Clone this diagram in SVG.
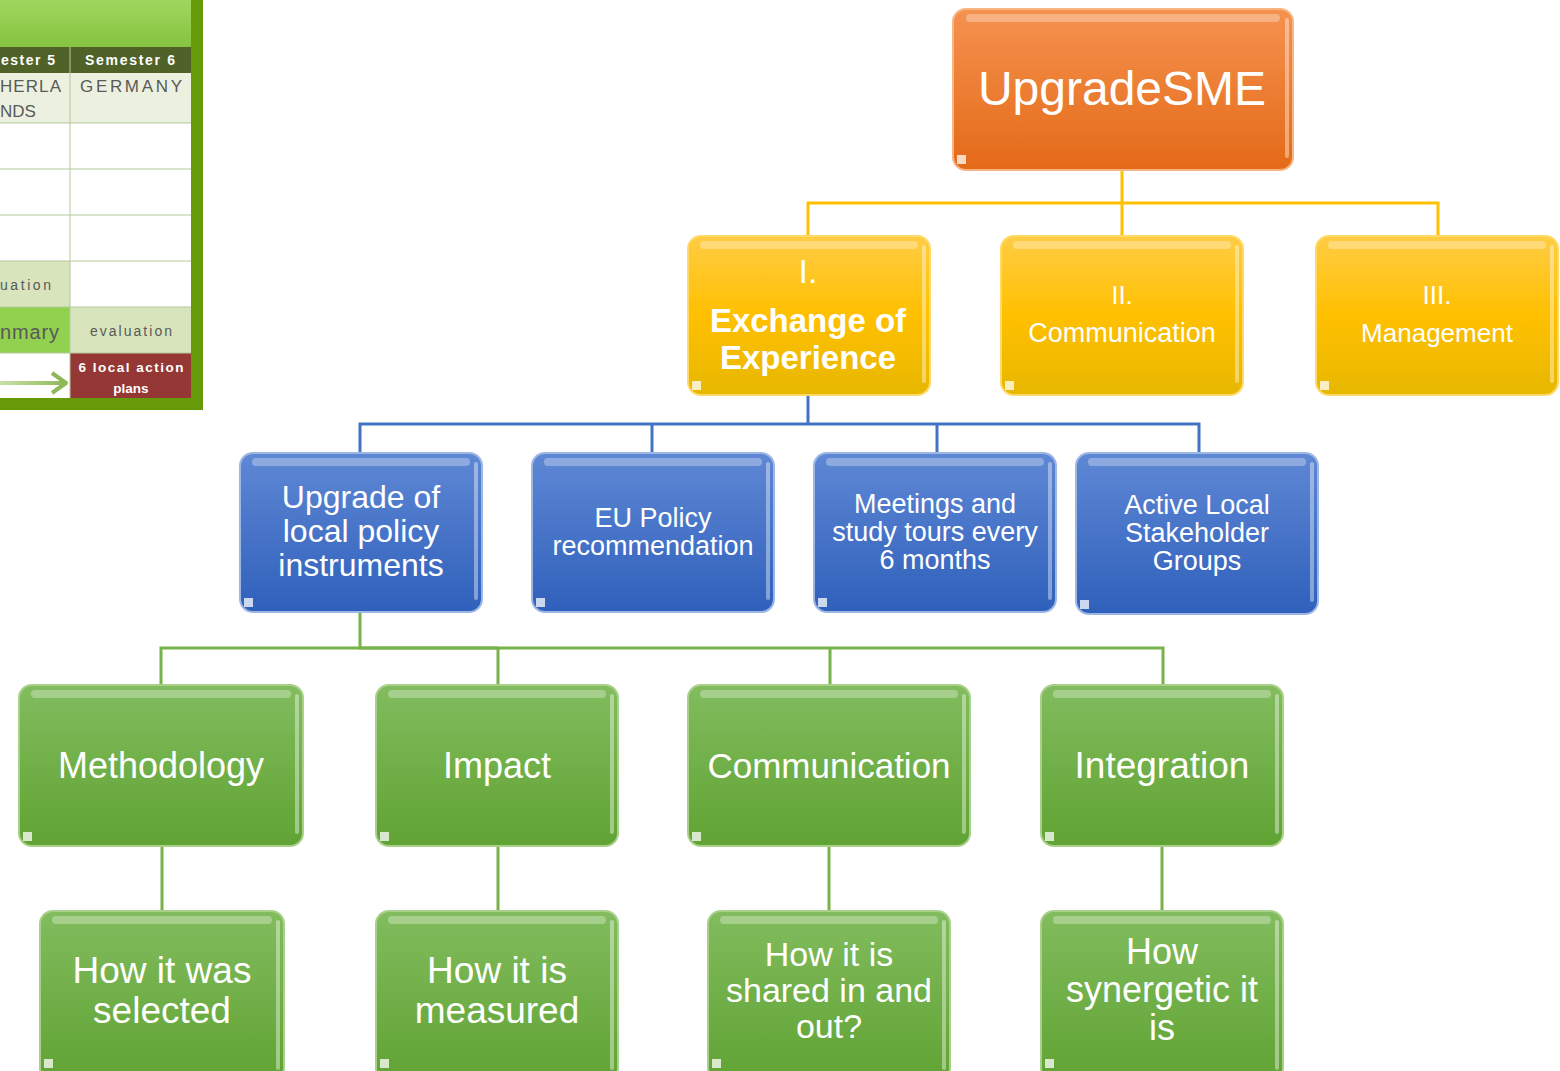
<svg xmlns="http://www.w3.org/2000/svg" width="1560" height="1071" viewBox="0 0 1560 1071">
<defs>
<linearGradient id="gOr" x1="0" y1="0" x2="0" y2="1"><stop offset="0" stop-color="#f5924f"/><stop offset="1" stop-color="#e46a18"/></linearGradient>
<linearGradient id="gYe" x1="0" y1="0" x2="0" y2="1"><stop offset="0" stop-color="#ffcc44"/><stop offset="0.5" stop-color="#ffc000"/><stop offset="1" stop-color="#e7b700"/></linearGradient>
<linearGradient id="gBl" x1="0" y1="0" x2="0" y2="1"><stop offset="0" stop-color="#5f88d5"/><stop offset="1" stop-color="#2f60bb"/></linearGradient>
<linearGradient id="gGr" x1="0" y1="0" x2="0" y2="1"><stop offset="0" stop-color="#82bc5e"/><stop offset="1" stop-color="#60a333"/></linearGradient>
<linearGradient id="gHd" x1="0" y1="0" x2="0" y2="1"><stop offset="0" stop-color="#9fd65e"/><stop offset="1" stop-color="#86c440"/></linearGradient>
<linearGradient id="gArr" gradientUnits="userSpaceOnUse" x1="0" y1="0" x2="66" y2="0"><stop offset="0" stop-color="#c9e0a8"/><stop offset="1" stop-color="#8fb858"/></linearGradient>
</defs>
<style>
text{font-family:"Liberation Sans",Arial,sans-serif;fill:#fff;text-anchor:middle}
.or{fill:url(#gOr);stroke:#f7b583;stroke-width:2}
.ye{fill:url(#gYe);stroke:#ffd966;stroke-width:2}
.bl{fill:url(#gBl);stroke:#9db7e3;stroke-width:2}
.gr{fill:url(#gGr);stroke:#a8d08a;stroke-width:2}
.hl{fill:#fff;opacity:0.3}
.sd{fill:#fff;opacity:0.4}
.ck{fill:#fff;opacity:0.75}
.cy{stroke:#ffc000;stroke-width:3;fill:none}
.cb{stroke:#4472c4;stroke-width:3;fill:none}
.cg{stroke:#78b24a;stroke-width:3;fill:none}
.tg{stroke:#b5c99a;stroke-width:1}
text.tt{fill:#595959;text-anchor:start}
text.tb{font-weight:bold;fill:#fff}
text.st{text-anchor:start}
</style>

<!-- table fragment -->
<g id="table">
<rect x="0" y="0" width="203" height="410" fill="#679a08"/>
<rect x="0" y="0" width="191" height="47" fill="url(#gHd)"/>
<rect x="0" y="47" width="191" height="26" fill="#4f6228"/>
<rect x="0" y="73" width="191" height="50" fill="#ebf1de"/>
<rect x="0" y="123" width="191" height="138" fill="#ffffff"/>
<rect x="0" y="261" width="70" height="46" fill="#d8e4bc"/>
<rect x="70" y="261" width="121" height="46" fill="#ffffff"/>
<rect x="0" y="307" width="70" height="46" fill="#92d050"/>
<rect x="70" y="307" width="121" height="46" fill="#d8e4bc"/>
<rect x="0" y="353" width="70" height="45" fill="#ffffff"/>
<rect x="70" y="353" width="121" height="45" fill="#953735"/>
<line class="tg" x1="70" y1="47" x2="70" y2="398"/>
<line class="tg" x1="0" y1="123" x2="191" y2="123"/>
<line class="tg" x1="0" y1="169" x2="191" y2="169"/>
<line class="tg" x1="0" y1="215" x2="191" y2="215"/>
<line class="tg" x1="0" y1="261" x2="191" y2="261"/>
<line class="tg" x1="0" y1="307" x2="191" y2="307"/>
<line class="tg" x1="0" y1="353" x2="191" y2="353"/>
<text class="tb st" x="1" y="65" font-size="14" textLength="54">ester 5</text>
<text class="tb" x="130" y="65" font-size="14" textLength="90">Semester 6</text>
<text class="tt" x="0" y="92" font-size="17" textLength="61">HERLA</text>
<text class="tt" x="0" y="117" font-size="17">NDS</text>
<text class="tt" x="80" y="92" font-size="17" textLength="102">GERMANY</text>
<text class="tt" x="0" y="290" font-size="14" textLength="51">uation</text>
<text class="tt" x="0" y="339" font-size="20" textLength="59">nmary</text>
<text class="tt" x="90" y="336" font-size="14" textLength="82">evaluation</text>
<text class="tb" x="131" y="372" font-size="13.5" textLength="105">6 local action</text>
<text class="tb" x="131" y="393" font-size="13.5">plans</text>
<line x1="0" y1="383" x2="64" y2="383" stroke="url(#gArr)" stroke-width="4"/>
<polyline points="52,373 66,383 52,393" fill="none" stroke="#8fb858" stroke-width="4" stroke-linejoin="round"/>
</g>

<!-- connectors -->
<g id="connectors">
<polyline class="cy" points="808,235 808,203 1438,203 1438,235"/>
<line class="cy" x1="1122" y1="170" x2="1122" y2="235" stroke-width="4" stroke="#f5b800"/>
<polyline class="cb" points="360,452 360,424 1199,424 1199,452"/>
<line class="cb" x1="652" y1="424" x2="652" y2="452"/>
<line class="cb" x1="937" y1="424" x2="937" y2="452"/>
<line class="cb" x1="808" y1="395" x2="808" y2="424" stroke-width="4" stroke="#3b66b8"/>
<polyline class="cg" points="161,685 161,648 1163,648 1163,685"/>
<line class="cg" x1="498" y1="648" x2="498" y2="685"/>
<line class="cg" x1="830" y1="648" x2="830" y2="685"/>
<polyline class="cg" points="360,613 360,648 498,648" stroke-width="4" stroke="#6aa63a"/>
<line class="cg" x1="162" y1="847" x2="162" y2="910"/>
<line class="cg" x1="498" y1="847" x2="498" y2="910"/>
<line class="cg" x1="829" y1="847" x2="829" y2="910"/>
<line class="cg" x1="1162" y1="847" x2="1162" y2="910"/>
</g>

<!-- level 0 -->
<g id="n-upgradesme">
<rect class="or" x="953" y="9" width="340" height="161" rx="13"/>
<rect class="hl" x="966" y="14" width="314" height="8" rx="4"/>
<rect class="sd" x="1285" y="18" width="4" height="140" rx="2"/>
<rect class="ck" x="957" y="155" width="9" height="9"/>
<text x="1122" y="105" font-size="48">UpgradeSME</text>
</g>

<!-- level 1 -->
<g id="n-exchange">
<rect class="ye" x="688" y="236" width="242" height="159" rx="13"/>
<rect class="hl" x="700" y="241" width="218" height="8" rx="4"/>
<rect class="sd" x="922" y="245" width="4" height="138" rx="2"/>
<rect class="ck" x="692" y="381" width="9" height="9"/>
<text x="808" y="283" font-size="34">I.</text>
<text x="808" y="332" font-size="33" font-weight="bold">Exchange of</text>
<text x="808" y="369" font-size="33" font-weight="bold">Experience</text>
</g>
<g id="n-communication1">
<rect class="ye" x="1001" y="236" width="242" height="159" rx="13"/>
<rect class="hl" x="1013" y="241" width="218" height="8" rx="4"/>
<rect class="sd" x="1235" y="245" width="4" height="138" rx="2"/>
<rect class="ck" x="1005" y="381" width="9" height="9"/>
<text x="1122" y="304" font-size="26">II.</text>
<text x="1122" y="342" font-size="27">Communication</text>
</g>
<g id="n-management">
<rect class="ye" x="1316" y="236" width="242" height="159" rx="13"/>
<rect class="hl" x="1328" y="241" width="218" height="8" rx="4"/>
<rect class="sd" x="1550" y="245" width="4" height="138" rx="2"/>
<rect class="ck" x="1320" y="381" width="9" height="9"/>
<text x="1437" y="304" font-size="26">III.</text>
<text x="1437" y="342" font-size="26">Management</text>
</g>

<!-- level 2 -->
<g id="n-upgrade-local">
<rect class="bl" x="240" y="453" width="242" height="159" rx="13"/>
<rect class="hl" x="252" y="458" width="218" height="8" rx="4"/>
<rect class="sd" x="474" y="462" width="4" height="138" rx="2"/>
<rect class="ck" x="244" y="598" width="9" height="9"/>
<text x="361" y="508" font-size="32">Upgrade of</text>
<text x="361" y="542" font-size="32">local policy</text>
<text x="361" y="576" font-size="32">instruments</text>
</g>
<g id="n-eu-policy">
<rect class="bl" x="532" y="453" width="242" height="159" rx="13"/>
<rect class="hl" x="544" y="458" width="218" height="8" rx="4"/>
<rect class="sd" x="766" y="462" width="4" height="138" rx="2"/>
<rect class="ck" x="536" y="598" width="9" height="9"/>
<text x="653" y="527" font-size="27">EU Policy</text>
<text x="653" y="555" font-size="27">recommendation</text>
</g>
<g id="n-meetings">
<rect class="bl" x="814" y="453" width="242" height="159" rx="13"/>
<rect class="hl" x="826" y="458" width="218" height="8" rx="4"/>
<rect class="sd" x="1048" y="462" width="4" height="138" rx="2"/>
<rect class="ck" x="818" y="598" width="9" height="9"/>
<text x="935" y="513" font-size="27">Meetings and</text>
<text x="935" y="541" font-size="27">study tours every</text>
<text x="935" y="569" font-size="27">6 months</text>
</g>
<g id="n-active-local">
<rect class="bl" x="1076" y="453" width="242" height="161" rx="13"/>
<rect class="hl" x="1088" y="458" width="218" height="8" rx="4"/>
<rect class="sd" x="1310" y="462" width="4" height="140" rx="2"/>
<rect class="ck" x="1080" y="600" width="9" height="9"/>
<text x="1197" y="514" font-size="27">Active Local</text>
<text x="1197" y="542" font-size="27">Stakeholder</text>
<text x="1197" y="570" font-size="27">Groups</text>
</g>

<!-- level 3 -->
<g id="n-methodology">
<rect class="gr" x="19" y="685" width="284" height="161" rx="13"/>
<rect class="hl" x="31" y="690" width="260" height="8" rx="4"/>
<rect class="sd" x="295" y="694" width="4" height="140" rx="2"/>
<rect class="ck" x="23" y="832" width="9" height="9"/>
<text x="161" y="778" font-size="36">Methodology</text>
</g>
<g id="n-impact">
<rect class="gr" x="376" y="685" width="242" height="161" rx="13"/>
<rect class="hl" x="388" y="690" width="218" height="8" rx="4"/>
<rect class="sd" x="610" y="694" width="4" height="140" rx="2"/>
<rect class="ck" x="380" y="832" width="9" height="9"/>
<text x="497" y="778" font-size="36">Impact</text>
</g>
<g id="n-communication2">
<rect class="gr" x="688" y="685" width="282" height="161" rx="13"/>
<rect class="hl" x="700" y="690" width="258" height="8" rx="4"/>
<rect class="sd" x="962" y="694" width="4" height="140" rx="2"/>
<rect class="ck" x="692" y="832" width="9" height="9"/>
<text x="829" y="778" font-size="35">Communication</text>
</g>
<g id="n-integration">
<rect class="gr" x="1041" y="685" width="242" height="161" rx="13"/>
<rect class="hl" x="1053" y="690" width="218" height="8" rx="4"/>
<rect class="sd" x="1275" y="694" width="4" height="140" rx="2"/>
<rect class="ck" x="1045" y="832" width="9" height="9"/>
<text x="1162" y="778" font-size="37">Integration</text>
</g>

<!-- level 4 -->
<g id="n-how-selected">
<rect class="gr" x="40" y="911" width="244" height="170" rx="13"/>
<rect class="hl" x="52" y="916" width="220" height="8" rx="4"/>
<rect class="sd" x="276" y="920" width="4" height="150" rx="2"/>
<rect class="ck" x="44" y="1059" width="9" height="9"/>
<text x="162" y="983" font-size="37">How it was</text>
<text x="162" y="1023" font-size="37">selected</text>
</g>
<g id="n-how-measured">
<rect class="gr" x="376" y="911" width="242" height="170" rx="13"/>
<rect class="hl" x="388" y="916" width="218" height="8" rx="4"/>
<rect class="sd" x="610" y="920" width="4" height="150" rx="2"/>
<rect class="ck" x="380" y="1059" width="9" height="9"/>
<text x="497" y="983" font-size="37">How it is</text>
<text x="497" y="1023" font-size="37">measured</text>
</g>
<g id="n-how-shared">
<rect class="gr" x="708" y="911" width="242" height="170" rx="13"/>
<rect class="hl" x="720" y="916" width="218" height="8" rx="4"/>
<rect class="sd" x="942" y="920" width="4" height="150" rx="2"/>
<rect class="ck" x="712" y="1059" width="9" height="9"/>
<text x="829" y="966" font-size="34">How it is</text>
<text x="829" y="1002" font-size="34">shared in and</text>
<text x="829" y="1038" font-size="34">out?</text>
</g>
<g id="n-how-synergetic">
<rect class="gr" x="1041" y="911" width="242" height="170" rx="13"/>
<rect class="hl" x="1053" y="916" width="218" height="8" rx="4"/>
<rect class="sd" x="1275" y="920" width="4" height="150" rx="2"/>
<rect class="ck" x="1045" y="1059" width="9" height="9"/>
<text x="1162" y="964" font-size="36">How</text>
<text x="1162" y="1002" font-size="36">synergetic it</text>
<text x="1162" y="1040" font-size="36">is</text>
</g>
</svg>
